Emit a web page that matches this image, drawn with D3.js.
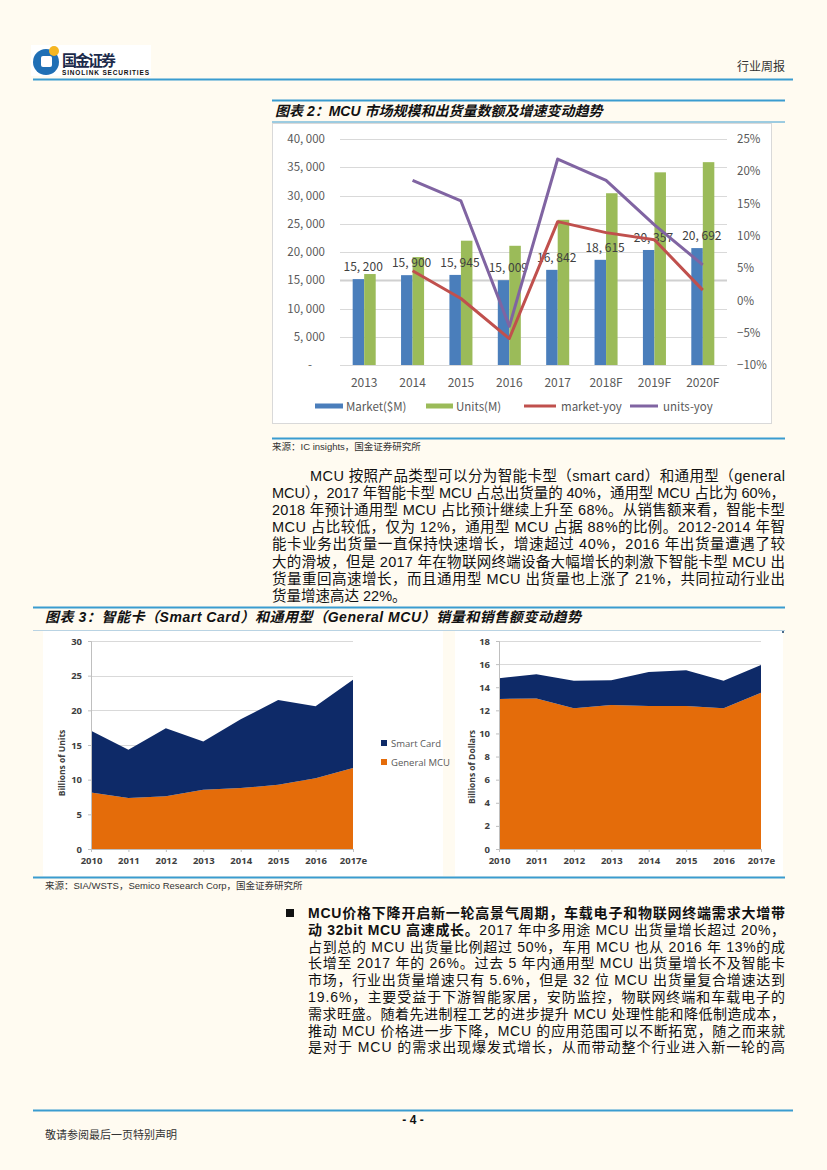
<!DOCTYPE html>
<html><head><meta charset="utf-8">
<script src="https://cdn.jsdelivr.net/npm/d3@7"></script>
<style>
html,body{margin:0;padding:0;background:#fffbf1;}
svg{display:block;}
</style></head>
<body>
<svg id="page" width="827" height="1170"></svg>
<script>
// ---------- DATA ----------
const years2 = ["2013","2014","2015","2016","2017","2018F","2019F","2020F"];
const market = [15200,15900,15945,15009,16842,18615,20357,20692];
const units = [16100,19100,22000,21100,25700,30400,34100,35900];
const marketYoy = [null,4.6,0.3,-5.9,12.2,10.5,9.4,1.6];
const unitsYoy = [null,18.6,15.4,-4.0,21.9,18.6,11.7,5.5];
const leftTicks = [0,5000,10000,15000,20000,25000,30000,35000,40000];
const rightTicks = [-10,-5,0,5,10,15,20,25];
const legend2 = ["Market($M)","Units(M)","market-yoy","units-yoy"];

const years3 = ["2010","2011","2012","2013","2014","2015","2016","2017e"];
const unitsGeneral = [8.15,7.35,7.6,8.55,8.8,9.25,10.2,11.7];
const unitsSmart = [8.9,6.95,9.8,6.95,9.9,12.25,10.4,12.7];
const salesGeneral = [12.98,13.03,12.17,12.46,12.37,12.37,12.17,13.52];
const salesSmart = [1.8,2.1,2.4,2.15,2.95,3.1,2.4,2.4];
const unitsTicks = [0,5,10,15,20,25,30];
const salesTicks = [0,2,4,6,8,10,12,14,16,18];
const legend3 = ["Smart Card","General MCU"];

const para1 = [
 "MCU 按照产品类型可以分为智能卡型（smart card）和通用型（general",
 "MCU），2017 年智能卡型 MCU 占总出货量的 40%，通用型 MCU 占比为 60%，",
 "2018 年预计通用型 MCU 占比预计继续上升至 68%。从销售额来看，智能卡型",
 "MCU 占比较低，仅为 12%，通用型 MCU 占据 88%的比例。2012-2014 年智",
 "能卡业务出货量一直保持快速增长，增速超过 40%，2016 年出货量遭遇了较",
 "大的滑坡，但是 2017 年在物联网终端设备大幅增长的刺激下智能卡型 MCU 出",
 "货量重回高速增长，而且通用型 MCU 出货量也上涨了 21%，共同拉动行业出",
 "货量增速高达 22%。"
];
const para2 = [
 [["MCU价格下降开启新一轮高景气周期，车载电子和物联网终端需求大增带",true]],
 [["动 32bit MCU 高速成长。",true],["2017 年中多用途 MCU 出货量增长超过 20%，",false]],
 [["占到总的 MCU 出货量比例超过 50%，车用 MCU 也从 2016 年 13%的成",false]],
 [["长增至 2017 年的 26%。过去 5 年内通用型 MCU 出货量增长不及智能卡",false]],
 [["市场，行业出货量增速只有 5.6%，但是 32 位 MCU 出货量复合增速达到",false]],
 [["19.6%，主要受益于下游智能家居，安防监控，物联网终端和车载电子的",false]],
 [["需求旺盛。随着先进制程工艺的进步提升 MCU 处理性能和降低制造成本，",false]],
 [["推动 MCU 价格进一步下降，MCU 的应用范围可以不断拓宽，随之而来就",false]],
 [["是对于 MCU 的需求出现爆发式增长，从而带动整个行业进入新一轮的高",false]]
];

// ---------- PAGE ----------
const svg = d3.select("#page");
const BLUE = "#3a9cd0";
const CJK = "'Liberation Sans','Noto Sans CJK SC',sans-serif";
svg.append("rect").attr("width",827).attr("height",1170).attr("fill","#fffbf1");

// header logo
const logo = svg.append("g");
logo.append("rect").attr("x",31).attr("y",45).attr("width",120).attr("height",31).attr("fill","#fff");
logo.append("circle").attr("cx",46).attr("cy",62).attr("r",13).attr("fill","#1f6fb5");
logo.append("rect").attr("x",41).attr("y",56).attr("width",11).attr("height",11).attr("rx",2).attr("fill","#fff");
logo.append("circle").attr("cx",54).attr("cy",51).attr("r",5).attr("fill","#f5b622");
logo.append("text").attr("x",62).attr("y",66).attr("font-family","'Noto Sans CJK SC'").attr("font-weight",700)
  .attr("font-size",15).attr("fill","#1b2a4a").attr("textLength",54).text("国金证券");
logo.append("text").attr("x",62).attr("y",75).attr("font-family","'Liberation Sans'").attr("font-weight",700)
  .attr("font-size",6.5).attr("fill","#111").attr("textLength",87).text("SINOLINK SECURITIES");
svg.append("text").attr("x",785).attr("y",71).attr("text-anchor","end").attr("font-family","'Noto Sans CJK SC'")
  .attr("font-size",12).attr("fill","#333").text("行业周报");
svg.append("line").attr("x1",33).attr("x2",793).attr("y1",79.5).attr("y2",79.5).attr("stroke",BLUE).attr("stroke-width",2);

// ---------- CHART 2 frame ----------
svg.append("line").attr("x1",272).attr("x2",785).attr("y1",100.5).attr("y2",100.5).attr("stroke",BLUE).attr("stroke-width",2);
svg.append("text").attr("x",275).attr("y",116).attr("font-family",CJK).attr("font-weight",700).attr("font-style","italic")
  .attr("font-size",14).attr("fill","#111").text("图表 2：MCU 市场规模和出货量数额及增速变动趋势");
svg.append("line").attr("x1",272).attr("x2",785).attr("y1",122).attr("y2",122).attr("stroke",BLUE).attr("stroke-width",1);
svg.append("rect").attr("x",272.5).attr("y",123.5).attr("width",499).attr("height",300).attr("fill","#fff").attr("stroke","#d9d9d9");
svg.append("line").attr("x1",272).attr("x2",785).attr("y1",438.5).attr("y2",438.5).attr("stroke",BLUE).attr("stroke-width",2);

const c2 = svg.append("g");
const F2 = "'Noto Sans CJK JP',sans-serif";
const x2 = d3.scaleBand().domain(years2).range([340,727]);
const xs2 = d3.scaleBand().domain(["m","u"]).range([x2.bandwidth()*0.262, x2.bandwidth()*0.738]);
const yL = d3.scaleLinear().domain([0,40000]).range([365,139]);
const yR = d3.scaleLinear().domain([-10,25]).range([365,139]);

// grid
c2.append("g").selectAll("line").data(leftTicks).join("line")
  .attr("x1",340).attr("x2",727).attr("y1",d=>Math.round(yL(d))+0.5).attr("y2",d=>Math.round(yL(d))+0.5)
  .attr("stroke",d=>d===15000?"#d0d0d0":"#d9d9d9").attr("stroke-width",d=>d===15000?2:1);

const fmtL = d => d===0 ? "-" : d3.format(",")(d).replace(",", ", ");
const axL = c2.append("g").attr("transform","translate(340,0)")
  .call(d3.axisLeft(yL).tickValues(leftTicks).tickSize(0).tickPadding(15).tickFormat(fmtL));
axL.select(".domain").remove();
axL.selectAll("text").attr("font-family",F2).attr("font-size",11.5).attr("fill","#595959")
  .attr("dx",d=>d===0?-13:0);
const axR = c2.append("g").attr("transform","translate(727,0)")
  .call(d3.axisRight(yR).tickValues(rightTicks).tickSize(0).tickPadding(10)
  .tickFormat(d => (d<0?"−"+Math.abs(d):d)+"%"));
axR.select(".domain").remove();
axR.selectAll("text").attr("font-family",F2).attr("font-size",11.5).attr("fill","#595959");
const axB = c2.append("g").attr("transform","translate(0,365)")
  .call(d3.axisBottom(x2).tickSize(0).tickPadding(13));
axB.select(".domain").remove();
axB.selectAll("text").attr("font-family",F2).attr("font-size",12).attr("fill","#595959");

// bars
const g2 = c2.append("g").selectAll("g").data(years2).join("g").attr("transform",d=>`translate(${x2(d)},0)`);
g2.append("rect").attr("x",xs2("m")).attr("width",xs2.bandwidth())
  .attr("y",(d,i)=>yL(market[i])).attr("height",(d,i)=>yL(0)-yL(market[i])).attr("fill","#4a7ebb");
g2.append("rect").attr("x",xs2("u")).attr("width",xs2.bandwidth())
  .attr("y",(d,i)=>yL(units[i])).attr("height",(d,i)=>yL(0)-yL(units[i])).attr("fill","#9bbb59");
// data labels
c2.append("g").selectAll("text").data(years2).join("text")
  .attr("x",d=>x2(d)+x2.bandwidth()/2-1).attr("y",(d,i)=>yL(market[i])-8)
  .attr("text-anchor","middle").attr("font-family",F2).attr("font-size",12).attr("fill","#404040")
  .text((d,i)=>d3.format(",")(market[i]).replace(",", ", "));
// lines
const cx2 = d => x2(d)+x2.bandwidth()/2;
const lineGen = d3.line().defined(d=>d.v!=null).x(d=>cx2(d.k)).y(d=>yR(d.v));
c2.append("path").datum(years2.map((k,i)=>({k,v:marketYoy[i]}))).attr("d",lineGen)
  .attr("fill","none").attr("stroke","#c0504d").attr("stroke-width",3).attr("stroke-linejoin","round");
c2.append("path").datum(years2.map((k,i)=>({k,v:unitsYoy[i]}))).attr("d",lineGen)
  .attr("fill","none").attr("stroke","#8064a2").attr("stroke-width",3).attr("stroke-linejoin","round");

// legend
const legX = [315,426,524,630];
const legW = [28,27,32,28];
const legC = ["#4a7ebb","#9bbb59","#c0504d","#8064a2"];
const lg = c2.append("g").selectAll("g").data(legend2).join("g");
lg.append("rect").attr("x",(d,i)=>legX[i]).attr("y",(d,i)=>i<2?403.5:404.5).attr("width",(d,i)=>legW[i])
  .attr("height",(d,i)=>i<2?5:3).attr("fill",(d,i)=>legC[i]);
lg.append("text").attr("x",(d,i)=>legX[i]+legW[i]+(i<2?3:5)).attr("y",410.5).attr("font-family",F2)
  .attr("font-size",11.5).attr("fill","#595959").text(d=>d);

// source 1
svg.append("text").attr("x",272).attr("y",450).attr("font-family",CJK).attr("font-size",9.5).attr("fill","#333")
  .text("来源：IC insights，国金证券研究所");

// paragraph 1
const p1 = svg.append("g").attr("font-family",CJK).attr("font-size",14.5).attr("fill","#111");
para1.forEach((t,i)=>{
  const x0 = i===0 ? 310 : 272;
  const tx = p1.append("text").attr("x",x0).attr("y",481+i*17.1).text(t);
  if(i<para1.length-1) tx.attr("textLength",785-x0).attr("lengthAdjust","spacing");
});

// ---------- CHART 3 frame ----------
svg.append("line").attr("x1",33).attr("x2",785).attr("y1",607.5).attr("y2",607.5).attr("stroke",BLUE).attr("stroke-width",2);
svg.append("text").attr("x",45).attr("y",622).attr("font-family",CJK).attr("font-weight",700).attr("font-style","italic")
  .attr("font-size",14).attr("fill","#111").attr("textLength",536)
  .text("图表 3：智能卡（Smart Card）和通用型（General MCU）销量和销售额变动趋势");
svg.append("line").attr("x1",33).attr("x2",785).attr("y1",630.5).attr("y2",630.5).attr("stroke","#b9d3e3").attr("stroke-width",1);
svg.append("rect").attr("x",43).attr("y",631).attr("width",400).attr("height",245).attr("fill","#fff");
svg.append("rect").attr("x",455).attr("y",631).attr("width",328).attr("height",245).attr("fill","#fff");
svg.append("rect").attr("x",782).attr("y",631).attr("width",2).attr("height",2).attr("fill","#4a6a8a");
svg.append("line").attr("x1",33).attr("x2",785).attr("y1",877.5).attr("y2",877.5).attr("stroke",BLUE).attr("stroke-width",2);

const F3 = "'Open Sans',sans-serif";
function areaChart(x0,x1,y0,y1,maxV,ticks,gen,smart,title,titleY){
  const g = svg.append("g");
  const x = d3.scalePoint().domain(years3).range([x0,x1]);
  const y = d3.scaleLinear().domain([0,maxV]).range([y0,y1]);
  g.append("g").selectAll("line").data(ticks.filter(d=>d>0)).join("line")
    .attr("x1",x0).attr("x2",x1).attr("y1",d=>Math.round(y(d))+0.5).attr("y2",d=>Math.round(y(d))+0.5)
    .attr("stroke","#d9d9d9");
  const rows = years3.map((k,i)=>({k,general:gen[i],smart:smart[i]}));
  const st = d3.stack().keys(["general","smart"])(rows);
  const cols = {general:"#e46c0a",smart:"#0e2a68"};
  const ar = d3.area().x(d=>x(d.data.k)).y0(d=>y(d[0])).y1(d=>y(d[1]));
  g.append("g").selectAll("path").data(st).join("path").attr("d",ar).attr("fill",d=>cols[d.key]);
  const ay = g.append("g").attr("transform",`translate(${x0},0)`)
    .call(d3.axisLeft(y).tickValues(ticks).tickSize(3).tickPadding(6));
  ay.select(".domain").attr("stroke","#bfbfbf");
  ay.selectAll(".tick line").attr("stroke","#bfbfbf");
  ay.selectAll("text").attr("font-family",F3).attr("font-weight",700).attr("font-size",9.5).attr("fill","#404040");
  const ax = g.append("g").attr("transform",`translate(0,${y0})`)
    .call(d3.axisBottom(x).tickSize(3).tickPadding(5));
  ax.select(".domain").attr("stroke","#bfbfbf");
  ax.selectAll(".tick line").attr("stroke","#bfbfbf");
  ax.selectAll("text").attr("font-family",F3).attr("font-weight",700).attr("font-size",9.5).attr("fill","#404040");
  g.append("text").attr("transform",`translate(${title[0]},${titleY}) rotate(-90)`).attr("text-anchor","middle")
    .attr("font-family",F3).attr("font-weight",700).attr("font-size",8.5).attr("fill","#404040").text(title[1]);
  return g;
}
areaChart(91,353,849,641,30,unitsTicks,unitsGeneral,unitsSmart,[65,"Billions of Units"],763);
areaChart(499,761,849,641,18,salesTicks,salesGeneral,salesSmart,[475,"Billions of Dollars"],767);

// legend chart 3
const lg3 = svg.append("g").selectAll("g").data(legend3).join("g");
lg3.append("rect").attr("x",381).attr("y",(d,i)=>740+i*19).attr("width",6).attr("height",6)
  .attr("fill",(d,i)=>i===0?"#0e2a68":"#e46c0a");
lg3.append("text").attr("x",391).attr("y",(d,i)=>746.5+i*19).attr("font-family",F3).attr("font-size",9.5)
  .attr("fill","#595959").text(d=>d);

// source 2
svg.append("text").attr("x",45).attr("y",889).attr("font-family",CJK).attr("font-size",9.5).attr("fill","#333")
  .text("来源：SIA/WSTS，Semico Research Corp，国金证券研究所");

// bullet paragraph
svg.append("rect").attr("x",286).attr("y",909).attr("width",8).attr("height",8).attr("fill","#111");
const p2 = svg.append("g").attr("font-family",CJK).attr("font-size",14).attr("fill","#111");
para2.forEach((parts,i)=>{
  const t = p2.append("text").attr("x",308).attr("y",918+i*16.8)
    .attr("textLength",477).attr("lengthAdjust","spacing");
  parts.forEach(([s,b])=>t.append("tspan").attr("font-weight",b?700:400).text(s));
});

// footer
svg.append("line").attr("x1",33).attr("x2",793).attr("y1",1110.5).attr("y2",1110.5).attr("stroke",BLUE).attr("stroke-width",2);
svg.append("text").attr("x",413).attr("y",1124).attr("text-anchor","middle").attr("font-family","'Liberation Sans'")
  .attr("font-weight",700).attr("font-size",12).attr("fill","#111").text("- 4 -");
svg.append("text").attr("x",45).attr("y",1139).attr("font-family","'Noto Sans CJK SC'").attr("font-size",11)
  .attr("fill","#333").text("敬请参阅最后一页特别声明");
</script>
</body></html>
